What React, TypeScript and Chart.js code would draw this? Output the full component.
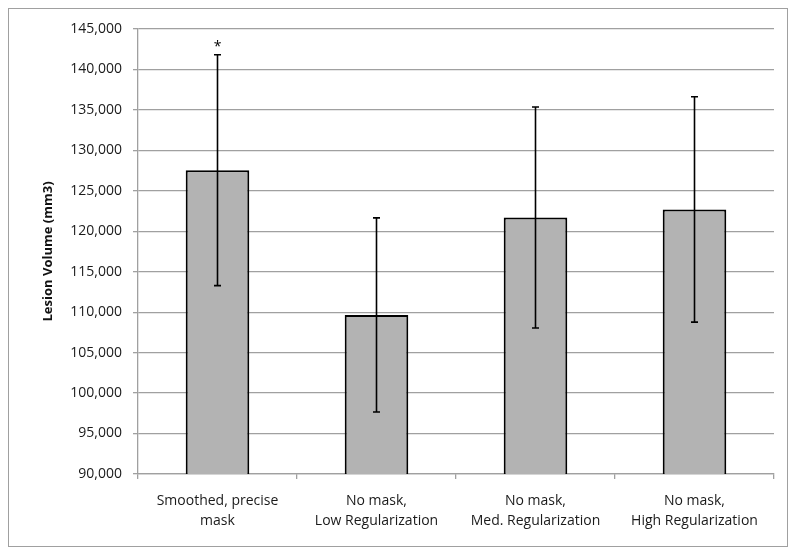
import React, { useEffect, useRef } from "react";
import { Chart, registerables } from "chart.js";

Chart.register(...registerables);

const categories: string[][] = [
  ["Smoothed, precise", "mask"],
  ["No mask,", "Low Regularization"],
  ["No mask,", "Med. Regularization"],
  ["No mask,", "High Regularization"],
];
const meanVolumes: number[] = [127550, 109650, 121700, 122700];
const errorSizes: number[] = [14270, 12000, 13650, 13930];
const markers: string[] = ["*", "", "", ""];
const yMin = 90000;
const yMax = 145000;
const yStep = 5000;

const FONT = "'Open Sans', 'Noto Sans', sans-serif";

const errorBarPlugin = {
  id: "errorBars",
  afterDatasetsDraw(chart: any) {
    const ctx = chart.ctx;
    const meta = chart.getDatasetMeta(0);
    const yScale = chart.scales.y;
    ctx.save();
    ctx.strokeStyle = "#000";
    ctx.lineWidth = 1.6;
    meta.data.forEach((bar: any, i: number) => {
      const x = bar.x;
      const top = yScale.getPixelForValue(meanVolumes[i] + errorSizes[i]);
      const bot = yScale.getPixelForValue(meanVolumes[i] - errorSizes[i]);
      ctx.beginPath();
      ctx.moveTo(x, top);
      ctx.lineTo(x, bot);
      ctx.moveTo(x - 3.5, top);
      ctx.lineTo(x + 3.5, top);
      ctx.moveTo(x - 3.5, bot);
      ctx.lineTo(x + 3.5, bot);
      ctx.stroke();
      if (markers[i]) {
        ctx.fillStyle = "#000";
        ctx.font = `14px ${FONT}`;
        ctx.textAlign = "center";
        ctx.textBaseline = "alphabetic";
        ctx.fillText(markers[i], x, top - 4);
      }
    });
    ctx.restore();
  },
};

export default function App() {
  const canvasRef = useRef<HTMLCanvasElement | null>(null);

  useEffect(() => {
    if (!canvasRef.current) return;
    const chart = new Chart(canvasRef.current, {
      type: "bar",
      data: {
        labels: categories,
        datasets: [
          {
            data: meanVolumes,
            backgroundColor: "#b3b3b3",
            borderColor: "#000",
            borderWidth: 2,
            barPercentage: 0.4,
            categoryPercentage: 1,
          },
        ],
      },
      options: {
        responsive: false,
        animation: false,
        layout: { padding: { left: 0, right: 13, top: 20, bottom: 3 } },
        plugins: {
          legend: { display: false },
          tooltip: { enabled: false },
        },
        scales: {
          x: {
            grid: {
              display: true,
              drawOnChartArea: false,
              drawTicks: true,
              tickLength: 5,
              color: "#a0a0a0",
              lineWidth: 1.3,
            },
            border: { display: true, color: "#a0a0a0", width: 1.3 },
            ticks: {
              color: "#1a1a1a",
              padding: 12,
              font: { family: FONT, size: 14, lineHeight: 1.43 },
              maxRotation: 0,
              autoSkip: false,
            },
          },
          y: {
            min: yMin,
            max: yMax,
            afterFit(scale: any) {
              scale.width = 129;
            },
            grid: {
              color: "#a0a0a0",
              lineWidth: 1.3,
              tickLength: 5,
            },
            border: { display: true, color: "#a0a0a0", width: 1.3 },
            ticks: {
              stepSize: yStep,
              color: "#1a1a1a",
              padding: 11,
              font: { family: FONT, size: 14 },
              callback: (v: any) => Number(v).toLocaleString("en-US"),
            },
            title: {
              display: true,
              text: "Lesion Volume (mm3)",
              color: "#111",
              font: { family: FONT, size: 13, weight: "bold" },
              padding: { top: 31, bottom: 0 },
            },
          },
        },
      },
      plugins: [errorBarPlugin],
    });
    return () => chart.destroy();
  }, []);

  return (
    <div
      style={{
        width: 778,
        height: 537,
        border: "1px solid #a0a0a0",
        background: "#fff",
      }}
    >
      <canvas ref={canvasRef} width={778} height={537} style={{ display: "block" }} />
    </div>
  );
}
